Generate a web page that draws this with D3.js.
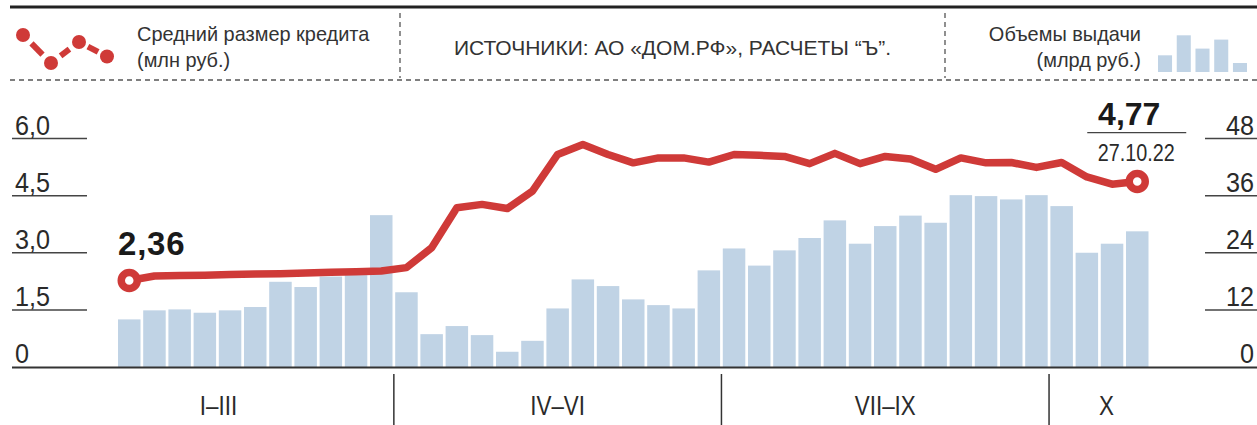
<!DOCTYPE html>
<html>
<head>
<meta charset="utf-8">
<script src="https://cdn.jsdelivr.net/npm/d3@7"></script>
<style>
  body { margin: 0; background: #fff; }
  svg { display: block; }
  .cond { font-family: "Liberation Sans", Arial, sans-serif; }
  .bold { font-family: "Liberation Sans", Arial, sans-serif; font-weight: bold; }
</style>
</head>
<body>
<div id="chart"></div>
<script>
"use strict";

// weekly points, 2022 (first weeks of year missing)
var weeks = [1, 2, 3, 4, 5, 6, 7, 8, 9, 10, 11, 12, 13, 14, 15, 16, 17, 18, 19, 20, 21,
             22, 23, 24, 25, 26, 27, 28, 29, 30, 31, 32, 33, 34, 35, 36, 37, 38, 39, 40, 41];

// average loan size, mln rub
var avgLoan = [2.27, 2.39, 2.40, 2.41, 2.43, 2.44, 2.45, 2.47, 2.49, 2.50, 2.52,
               2.61, 3.13, 4.18, 4.27, 4.16, 4.62, 5.58, 5.84, 5.58, 5.36, 5.49, 5.49, 5.38,
               5.58, 5.56, 5.53, 5.34, 5.61, 5.34, 5.53, 5.46, 5.19, 5.49, 5.36, 5.37, 5.24,
               5.37, 4.99, 4.80, 4.87];

// issue volume, bn rub
var volume = [10.0, 11.9, 12.1, 11.4, 11.9, 12.6, 17.9, 16.8, 19.0, 19.3, 31.9,
              15.7, 6.9, 8.6, 6.7, 3.2, 5.5, 12.3, 18.4, 17.0, 14.2, 13.0, 12.3, 20.3,
              24.9, 21.3, 24.5, 27.1, 30.8, 25.9, 29.6, 31.8, 30.3, 36.1, 35.9, 35.2, 36.1,
              33.8, 24.0, 25.9, 28.5];

var quarters = ["I\u2013III", "IV\u2013VI", "VII\u2013IX", "X"];
var quarterWeeks = [11, 13, 13, 4];

var leftTicks = [0, 1.5, 3, 4.5, 6];
var leftTickLabels = ["0", "1,5", "3,0", "4,5", "6,0"];
var rightTicks = [0, 12, 24, 36, 48];

var firstLabel = "2,36";
var lastLabel = "4,77";
var lastDate = "27.10.22";

// legend decorations
var legendDots = [2.8, 0, 2.1, 0.65];
var legendBars = [16.7, 36.7, 23.4, 32.4, 9];

var App = App || {};

(function() {

    // narrow text: regular face squeezed horizontally, like a condensed cut
    var SX = 0.86;
    function ctext(g, x, y, str, size, anchor, sx) {
        return g.append("text")
            .attr("class", "cond")
            .attr("transform", "translate(" + x + "," + y + ") scale(" + (sx || SX) + ",1)")
            .attr("text-anchor", anchor || "start")
            .attr("font-size", size)
            .attr("fill", "#2a2a2a")
            .text(str);
    }

    App.start = function()
        {
            var W = 1257, H = 425,
                base_y = 367, top_y = 138.5,
                frame_l = 43, frame_r = 1164;

            var red = "#cf3a38", blue = "#c0d3e5";

            var svg = d3.select("#chart")
                    .append("svg")
                    .attr("width", W)
                    .attr("height", H);

            svg.append("rect").attr("width", W).attr("height", H).attr("fill", "#fff");

            // ---- header ----
            var head = svg.append("g");
            head.append("line")
                .attr("x1", 10).attr("x2", W).attr("y1", 7).attr("y2", 7)
                .attr("stroke", "#222").attr("stroke-width", 3);
            head.append("line")
                .attr("x1", 10).attr("x2", W).attr("y1", 80).attr("y2", 80)
                .attr("stroke", "#555").attr("stroke-width", 1.3)
                .attr("stroke-dasharray", "5,4");
            [400, 945].forEach(function(vx) {
                head.append("line")
                    .attr("x1", vx).attr("x2", vx).attr("y1", 13).attr("y2", 78)
                    .attr("stroke", "#555").attr("stroke-width", 1.3)
                    .attr("stroke-dasharray", "5,4");
            });

            // legend icon: dashed red line with dots
            var lx = d3.scaleLinear().domain([0, 3]).range([23, 107]),
                ly = d3.scaleLinear().domain([0, 2.8]).range([63, 35]);
            for (var i = 0; i < legendDots.length - 1; i++) {
                var ax = lx(i), ay = ly(legendDots[i]), bx = lx(i + 1), by = ly(legendDots[i + 1]);
                var len = Math.hypot(bx - ax, by - ay), ux = (bx - ax) / len, uy = (by - ay) / len;
                var cut = i === 2 ? 10 : 12;
                head.append("line")
                    .attr("x1", ax + ux * cut).attr("y1", ay + uy * cut)
                    .attr("x2", bx - ux * cut).attr("y2", by - uy * cut)
                    .attr("stroke", red).attr("stroke-width", 6);
            }
            head.selectAll("circle.ld")
                .data(legendDots)
                .enter()
                .append("circle")
                .attr("class", "ld")
                .attr("cx", function(d, i) { return lx(i); })
                .attr("cy", function(d) { return ly(d); })
                .attr("r", 7)
                .attr("fill", red);

            ctext(head, 137, 41, "Средний размер кредита", 21, "start", 0.95).attr("fill", "#333");
            ctext(head, 137, 67, "(млн руб.)", 21, "start", 0.95).attr("fill", "#333");
            ctext(head, 672.5, 55, "ИСТОЧНИКИ: АО «ДОМ.РФ», РАСЧЕТЫ “Ъ”.", 21, "middle", 1.0).attr("fill", "#333");
            ctext(head, 1141, 41, "Объемы выдачи", 21, "end", 0.95).attr("fill", "#333");
            ctext(head, 1141, 67, "(млрд руб.)", 21, "end", 0.95).attr("fill", "#333");

            var mbx = d3.scaleBand().domain(d3.range(legendBars.length)).range([1158, 1247]).paddingInner(0.25),
                mby = d3.scaleLinear().domain([0, 36.7]).range([0, 36.7]);
            head.selectAll("rect.lb")
                .data(legendBars)
                .enter()
                .append("rect")
                .attr("class", "lb")
                .attr("x", function(d, i) { return mbx(i); })
                .attr("y", function(d) { return 72 - mby(d); })
                .attr("width", mbx.bandwidth())
                .attr("height", function(d) { return mby(d); })
                .attr("fill", blue);

            // ---- scales ----
            var x = d3.scaleBand().domain(weeks).range([118, 1148.5]).paddingInner(0.107),
                yL = d3.scaleLinear().domain([0, 6]).range([base_y, top_y]),
                yR = d3.scaleLinear().domain([0, 48]).range([base_y, top_y]);
            var bw = x.bandwidth(), step = x.step();
            var cx = function(w) { return x(w) + bw / 2; };

            // left axis: short rules with labels sitting on them
            var axL = svg.append("g");
            axL.selectAll("line")
                .data(leftTicks.slice(1))
                .enter()
                .append("line")
                .attr("x1", 12).attr("x2", 87)
                .attr("y1", function(d) { return yL(d); })
                .attr("y2", function(d) { return yL(d); })
                .attr("stroke", "#444").attr("stroke-width", 1.5);
            leftTicks.forEach(function(d, i) {
                ctext(axL, 15, yL(d) - 4, leftTickLabels[i], 28, "start", 0.9);
            });

            var axR = svg.append("g");
            axR.selectAll("line")
                .data(rightTicks.slice(1))
                .enter()
                .append("line")
                .attr("x1", 1205).attr("x2", W)
                .attr("y1", function(d) { return yR(d); })
                .attr("y2", function(d) { return yR(d); })
                .attr("stroke", "#444").attr("stroke-width", 1.5);
            rightTicks.forEach(function(d) {
                ctext(axR, 1254, yR(d) - 4, String(d), 28, "end", 0.9);
            });

            // bars
            svg.append("g")
                .selectAll("rect")
                .data(volume)
                .enter()
                .append("rect")
                .attr("x", function(d, i) { return x(weeks[i]); })
                .attr("y", function(d) { return yR(d); })
                .attr("width", bw)
                .attr("height", function(d) { return base_y - yR(d); })
                .attr("fill", blue);

            // baseline
            svg.append("line")
                .attr("x1", 12).attr("x2", W).attr("y1", base_y + 0.5).attr("y2", base_y + 0.5)
                .attr("stroke", "#333").attr("stroke-width", 2);

            // quarter dividers and labels
            var bounds = [frame_l], acc = 0;
            quarterWeeks.forEach(function(n, qi) {
                acc += n;
                if (qi < quarterWeeks.length - 1) {
                    bounds.push(x(weeks[acc - 1]) + bw + (step - bw) / 2);
                }
            });
            bounds.push(frame_r);

            svg.append("g")
                .selectAll("line")
                .data(bounds.slice(1, -1))
                .enter()
                .append("line")
                .attr("x1", function(d) { return d; })
                .attr("x2", function(d) { return d; })
                .attr("y1", 374).attr("y2", H)
                .attr("stroke", "#333").attr("stroke-width", 1.5);

            var ql = svg.append("g");
            quarters.forEach(function(q, i) {
                ctext(ql, (bounds[i] + bounds[i + 1]) / 2, 415, q, 28, "middle", 0.8);
            });

            // average loan line
            var line = d3.line()
                .x(function(d, i) { return cx(weeks[i]); })
                .y(function(d) { return yL(d); });

            svg.append("path")
                .datum(avgLoan)
                .attr("d", line)
                .attr("fill", "none")
                .attr("stroke", red)
                .attr("stroke-width", 7.5)
                .attr("stroke-linejoin", "round");

            var ends = [0, avgLoan.length - 1];
            svg.append("g")
                .selectAll("circle")
                .data(ends)
                .enter()
                .append("circle")
                .attr("cx", function(i) { return cx(weeks[i]); })
                .attr("cy", function(i) { return yL(avgLoan[i]); })
                .attr("r", 8)
                .attr("fill", "#fff")
                .attr("stroke", red)
                .attr("stroke-width", 7.5);

            // annotations
            var p0x = x(weeks[0]), p0y = yL(avgLoan[0]);
            svg.append("text").attr("class", "bold")
                .attr("x", p0x).attr("y", p0y - 26)
                .attr("font-size", 33).attr("fill", "#1a1a1a")
                .attr("letter-spacing", 0.8)
                .text(firstLabel);

            var pnx = cx(weeks[weeks.length - 1]), pny = yL(avgLoan[avgLoan.length - 1]);
            svg.append("text").attr("class", "bold")
                .attr("x", pnx - 8).attr("y", pny - 57)
                .attr("text-anchor", "middle")
                .attr("font-size", 32).attr("fill", "#1a1a1a")
                .text(lastLabel);
            svg.append("line")
                .attr("x1", pnx - 50).attr("x2", pnx + 49)
                .attr("y1", pny - 49).attr("y2", pny - 49)
                .attr("stroke", "#444").attr("stroke-width", 1.3);
            ctext(svg, pnx - 1, pny - 21, lastDate, 23, "middle");
        }
    }) ();

App.start();
</script>
</body>
</html>
